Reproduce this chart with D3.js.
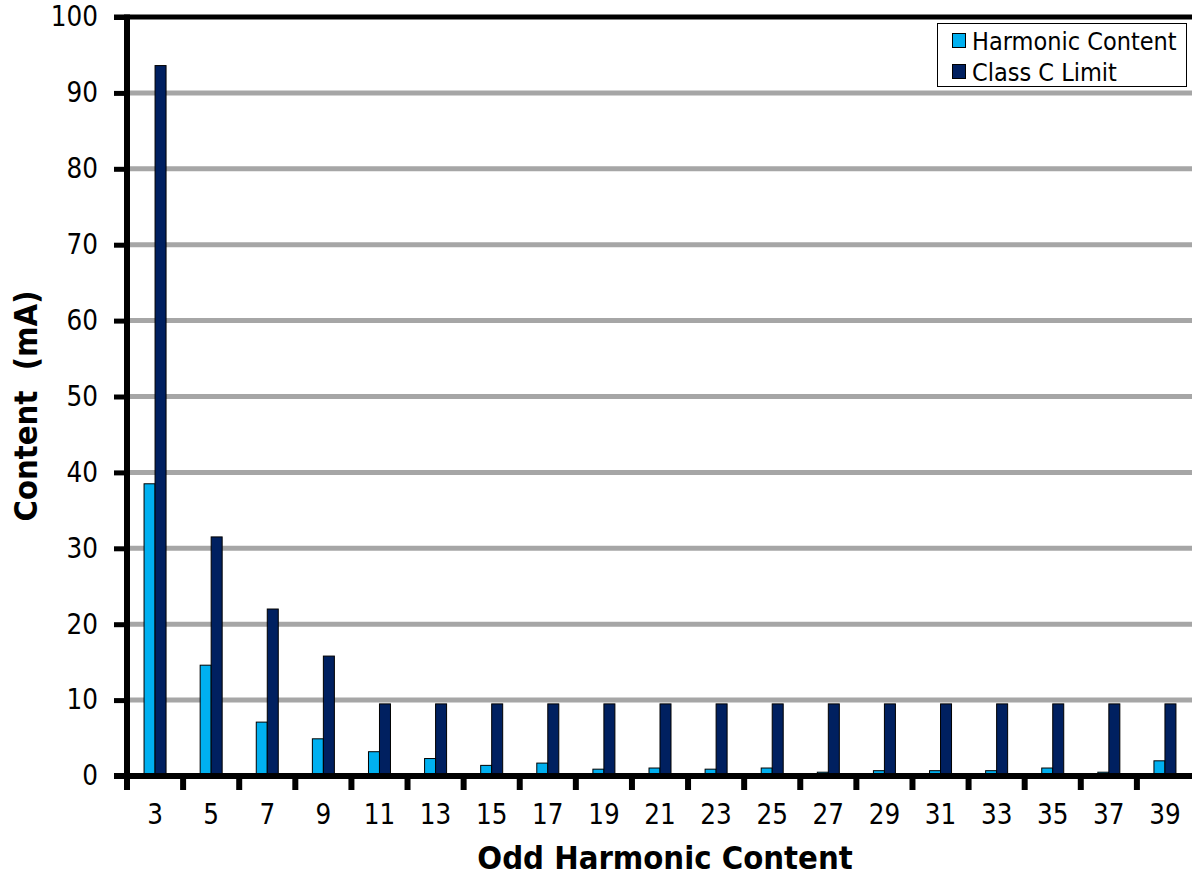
<!DOCTYPE html>
<html>
<head>
<meta charset="utf-8">
<script src="https://cdn.jsdelivr.net/npm/d3@7"></script>
<style>
  html, body { margin: 0; padding: 0; background: #fff; }
  svg { display: block; }
  text { font-family: "DejaVu Sans Condensed", "DejaVu Sans", sans-serif; fill: #000; }
</style>
</head>
<body>
<svg id="chart" width="1192" height="879"></svg>
<script>
// Odd harmonic orders on the x axis
const harmonics = [3, 5, 7, 9, 11, 13, 15, 17, 19, 21, 23, 25, 27, 29, 31, 33, 35, 37, 39];
// Measured harmonic current (mA)
const harmonicContent = [38.5, 14.6, 7.1, 4.9, 3.2, 2.3, 1.4, 1.7, 0.9, 1.05, 0.9, 1.05, 0.5, 0.7, 0.7, 0.7, 1.05, 0.5, 2.0];
// Class C limit (mA)
const classCLimit = [93.6, 31.5, 22.0, 15.8, 9.5, 9.5, 9.5, 9.5, 9.5, 9.5, 9.5, 9.5, 9.5, 9.5, 9.5, 9.5, 9.5, 9.5, 9.5];
const seriesNames = ["Harmonic Content", "Class C Limit"];
const seriesColors = ["#00b0f0", "#002060"];
const yTicks = [0, 10, 20, 30, 40, 50, 60, 70, 80, 90, 100];

const svg = d3.select("#chart");
const plotLeft = 127, plotRight = 1193, plotTop = 17, plotBottom = 776;

const x = d3.scaleBand().domain(harmonics).range([plotLeft, plotRight]).paddingInner(0).paddingOuter(0);
const groupW = 22;
const x1 = d3.scaleBand().domain(seriesNames).range([0, groupW]);
const y = d3.scaleLinear().domain([0, 100]).range([plotBottom, plotTop]);

// Horizontal gridlines
svg.append("g")
  .selectAll("line")
  .data(yTicks.filter(t => t > 0 && t < 100))
  .join("line")
  .attr("x1", plotLeft).attr("x2", 1192)
  .attr("y1", d => y(d)).attr("y2", d => y(d))
  .attr("stroke", "#a6a6a6").attr("stroke-width", 5);

// Bars
const rows = harmonics.map((h, i) => ({ h, values: [harmonicContent[i], classCLimit[i]] }));
const groups = svg.append("g")
  .selectAll("g")
  .data(rows)
  .join("g")
  .attr("transform", d => `translate(${x(d.h) + (x.bandwidth() - groupW) / 2},0)`);

groups.selectAll("rect")
  .data(d => d.values.map((v, j) => ({ v, j })))
  .join("rect")
  .attr("x", d => x1(seriesNames[d.j]))
  .attr("width", x1.bandwidth())
  .attr("y", d => y(d.v))
  .attr("height", d => plotBottom - y(d.v))
  .attr("fill", d => seriesColors[d.j])
  .attr("stroke", "#000")
  .attr("stroke-width", 1);

// Y axis
const yAxis = d3.axisLeft(y).tickValues(yTicks).tickSize(13).tickPadding(16).tickFormat(d3.format("d"));
const gy = svg.append("g").attr("transform", `translate(${plotLeft},0)`).call(yAxis);
gy.select(".domain").remove();
gy.selectAll(".tick line").attr("stroke", "#000").attr("stroke-width", 5);
gy.selectAll(".tick text").attr("font-size", 27.5).attr("fill", "#000").attr("font-family", null);

// X axis with ticks at the category boundaries
const gx = svg.append("g").attr("transform", `translate(0,${plotBottom})`)
  .call(d3.axisBottom(x).tickSize(0).tickPadding(28));
gx.select(".domain").remove();
gx.selectAll(".tick text").attr("font-size", 27.5).attr("fill", "#000").attr("font-family", null);
svg.append("g")
  .selectAll("line")
  .data(harmonics)
  .join("line")
  .attr("x1", d => x(d)).attr("x2", d => x(d))
  .attr("y1", plotBottom).attr("y2", plotBottom + 14)
  .attr("stroke", "#000").attr("stroke-width", 6);

// Frame lines
svg.append("line").attr("x1", plotLeft).attr("x2", plotLeft).attr("y1", plotTop - 2.5).attr("y2", plotBottom + 3)
  .attr("stroke", "#000").attr("stroke-width", 6);
svg.append("line").attr("x1", 114).attr("x2", 1192).attr("y1", plotTop).attr("y2", plotTop)
  .attr("stroke", "#000").attr("stroke-width", 5);
svg.append("line").attr("x1", 114).attr("x2", 1192).attr("y1", plotBottom).attr("y2", plotBottom)
  .attr("stroke", "#000").attr("stroke-width", 6);

// Axis titles
svg.append("text")
  .attr("x", 665).attr("y", 869)
  .attr("text-anchor", "middle")
  .attr("font-size", 32.5).attr("font-weight", "bold")
  .text("Odd Harmonic Content");
svg.append("text")
  .attr("transform", "translate(37,406) rotate(-90)")
  .attr("text-anchor", "middle")
  .attr("font-size", 32.5).attr("font-weight", "bold")
  .style("white-space", "pre")
  .text("Content  (mA)");

// Legend
const lg = svg.append("g");
lg.append("rect").attr("x", 937.5).attr("y", 23.5).attr("width", 249).attr("height", 63)
  .attr("fill", "#fff").attr("stroke", "#000").attr("stroke-width", 1);
seriesNames.forEach((name, i) => {
  lg.append("rect").attr("x", 952.5).attr("y", 33.5 + i * 31).attr("width", 13).attr("height", 14)
    .attr("fill", seriesColors[i]).attr("stroke", "#000").attr("stroke-width", 1);
  lg.append("text").attr("x", 972).attr("y", 50 + i * 31)
    .attr("font-size", 25).text(name);
});
</script>
</body>
</html>
